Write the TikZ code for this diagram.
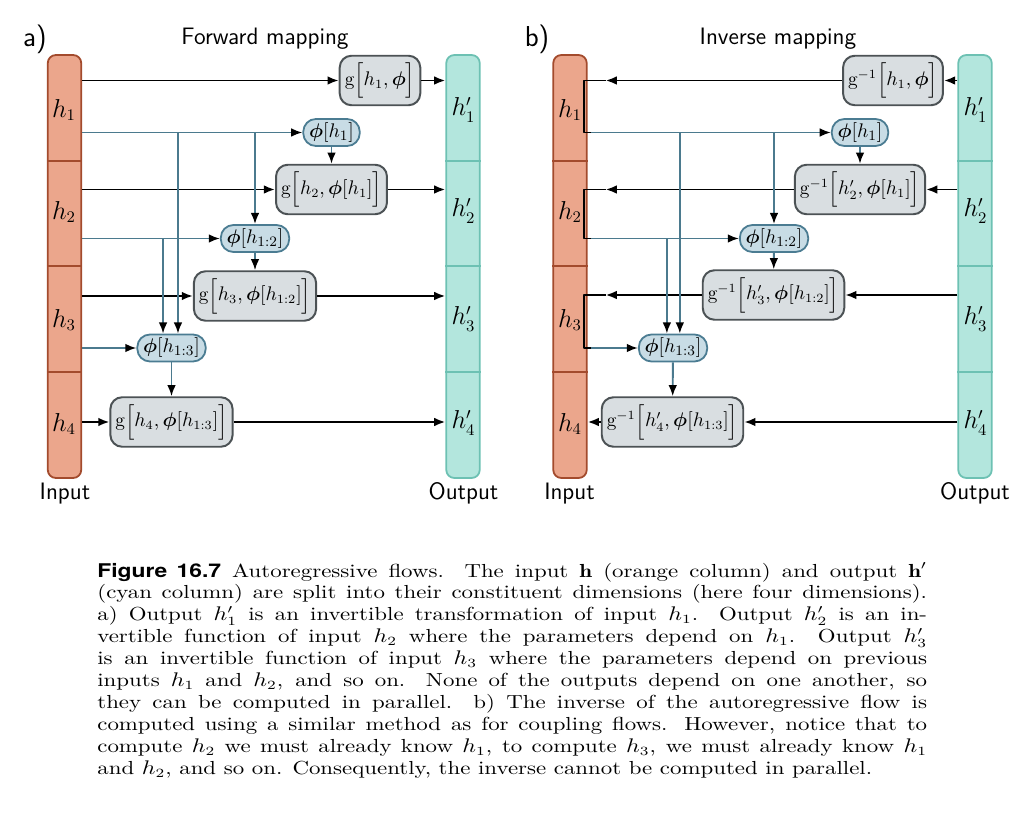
\documentclass[tikz,border=0pt]{standalone}
\usepackage{fontspec}
\usepackage{amsmath}
\usepackage{bm}
\usepackage{graphicx}
\usetikzlibrary{arrows.meta}
\newfontfamily\figfont{TeX Gyre Heros}

\definecolor{inFill}{HTML}{EBA68C}
\definecolor{inLine}{HTML}{A34B2D}
\definecolor{outFill}{HTML}{B3E6DD}
\definecolor{outLine}{HTML}{6DC1B3}
\definecolor{phiFill}{HTML}{C8DCE5}
\definecolor{phiLine}{HTML}{4B7C92}
\definecolor{gFill}{HTML}{D9DEE1}
\definecolor{gLine}{HTML}{4C5255}
\definecolor{linkBlue}{HTML}{4B7A8E}

\tikzset{
  incol/.style={draw=inLine, fill=inFill, line width=1pt, rounded corners=4.5pt,
    minimum width=18.6pt, minimum height=235pt, inner sep=0pt},
  outcol/.style={incol, draw=outLine, fill=outFill},
  cellcut/.style={line width=1pt},
  colab/.style={inner sep=0pt, font=\fontsize{13.5}{16}\selectfont},
  gbox/.style={draw=gLine, fill=gFill, line width=1.1pt, rounded corners=6.5pt,
    minimum height=27.5pt, inner xsep=2.8pt, font=\fontsize{10.7}{13}\selectfont},
  phibox/.style={draw=phiLine, fill=phiFill, line width=1pt, rounded corners=7pt,
    minimum height=15pt, inner xsep=3.2pt, inner ysep=0pt, font=\fontsize{11}{13}\selectfont},
  fwd/.style={->, line width=1.1pt},
  bk/.style={line width=1.1pt},
  prm/.style={draw=linkBlue, line width=1.05pt, -{Latex[length=6.2pt,width=4.8pt,color=black]}},
  heading/.style={anchor=base, inner sep=0pt, font=\sffamily\fontsize{13.2}{16}\selectfont},
  panelab/.style={anchor=base, inner sep=0pt, font=\sffamily\fontsize{16}{19}\selectfont},
}

\begin{document}
\begin{tikzpicture}[x=0.5556pt,y=-0.5556pt,>={Latex[length=6.2pt,width=4.8pt]},line join=bevel]
\useasboundingbox (0,0) rectangle (1026,840);
%% a) forward mapping
\node (panA) at (35,47) [panelab] {a)};
\node (headA) at (265,45) [heading] {Forward mapping};
\node (inA) at (64.5,266.5) [incol] {};
\node (outA) at (463,266.5) [outcol] {};
\foreach \y in {161,266,372} {
  \draw[cellcut,inLine] (inA.west |- 0,\y) -- (inA.east |- 0,\y);
  \draw[cellcut,outLine] (outA.west |- 0,\y) -- (outA.east |- 0,\y);
}
\node (hA1) at (64,110) [colab] {$h_1$};
\node (hA2) at (64,212) [colab] {$h_2$};
\node (hA3) at (64,320) [colab] {$h_3$};
\node (hA4) at (64,424) [colab] {$h_4$};
\node (oA1) at (463.5,110) [colab] {$h'_1$};
\node (oA2) at (463.5,211) [colab] {$h'_2$};
\node (oA3) at (463.5,319) [colab] {$h'_3$};
\node (oA4) at (463.5,423) [colab] {$h'_4$};
\node (inlabA) at (65,499) [heading] {Input};
\node (outlabA) at (463.5,499) [heading] {Output};
%
\node (gA1) at (380,80.5) [gbox] {$\mathrm{g}\Big[h_1,\bm{\phi}\Big]$};
\node (phiA1) at (331.5,132.5) [phibox] {$\bm{\phi}[h_1]$};
\node (gA2) at (331.5,189.5) [gbox] {$\mathrm{g}\Big[h_2,\bm{\phi}[h_1]\Big]$};
\node (phiA2) at (255,238.5) [phibox] {$\bm{\phi}[h_{1:2}]$};
\node (gA3) at (255,296) [gbox] {$\mathrm{g}\Big[h_3,\bm{\phi}[h_{1:2}]\Big]$};
\node (phiA3) at (171.5,348) [phibox] {$\bm{\phi}[h_{1:3}]$};
\node (gA4) at (171.5,422) [gbox] {$\mathrm{g}\Big[h_4,\bm{\phi}[h_{1:3}]\Big]$};
%
\draw[fwd] (inA.east |- gA1) -- (gA1);
\draw[fwd] (gA1) -- (outA.west |- gA1);
\draw[fwd] (inA.east |- gA2) -- (gA2);
\draw[fwd] (gA2) -- (outA.west |- gA2);
\draw[fwd] (inA.east |- gA3) -- (gA3);
\draw[fwd] (gA3) -- (outA.west |- gA3);
\draw[fwd] (inA.east |- gA4) -- (gA4);
\draw[fwd] (gA4) -- (outA.west |- gA4);
\draw[prm] (inA.east |- phiA1) -- (phiA1);
\draw[prm] (inA.east |- phiA2) -- (phiA2);
\draw[prm] (inA.east |- phiA3) -- (phiA3);
\draw[prm] (phiA2.north |- phiA1) -- (phiA2);
\draw[prm] ([xshift=3.6pt]phiA3.north |- phiA1) -- ([xshift=3.6pt]phiA3.north);
\draw[prm] ([xshift=-4.7pt]phiA3.north |- phiA2) -- ([xshift=-4.7pt]phiA3.north);
\draw[prm] (phiA1) -- (gA2);
\draw[prm] (phiA2) -- (gA3);
\draw[prm] (phiA3) -- (gA4);
%% b) inverse mapping
\node (panB) at (537,47) [panelab] {b)};
\node (headB) at (778,45) [heading] {Inverse mapping};
\node (inB) at (570,266.5) [incol] {};
\node (outB) at (975,266.5) [outcol] {};
\foreach \y in {161,266,372} {
  \draw[cellcut,inLine] (inB.west |- 0,\y) -- (inB.east |- 0,\y);
  \draw[cellcut,outLine] (outB.west |- 0,\y) -- (outB.east |- 0,\y);
}
\node (hB1) at (570,110) [colab] {$h_1$};
\node (hB2) at (570,212) [colab] {$h_2$};
\node (hB3) at (570,320) [colab] {$h_3$};
\node (hB4) at (570,424) [colab] {$h_4$};
\node (oB1) at (975.5,110) [colab] {$h'_1$};
\node (oB2) at (975.5,211) [colab] {$h'_2$};
\node (oB3) at (975.5,319) [colab] {$h'_3$};
\node (oB4) at (975.5,423) [colab] {$h'_4$};
\node (inlabB) at (569.5,499) [heading] {Input};
\node (outlabB) at (975,499) [heading] {Output};
%
\node (gB1) at (893,80.5) [gbox] {$\mathrm{g}^{-1}\Big[h_1,\bm{\phi}\Big]$};
\node (phiB1) at (860,132.5) [phibox] {$\bm{\phi}[h_1]$};
\node (gB2) at (860,189.5) [gbox] {$\mathrm{g}^{-1}\Big[h'_2,\bm{\phi}[h_1]\Big]$};
\node (phiB2) at (774,238.5) [phibox] {$\bm{\phi}[h_{1:2}]$};
\node (gB3) at (773.5,295) [gbox] {$\mathrm{g}^{-1}\Big[h'_3,\bm{\phi}[h_{1:2}]\Big]$};
\node (phiB3) at (673,348) [phibox] {$\bm{\phi}[h_{1:3}]$};
\node (gB4) at (672.5,422) [gbox] {$\mathrm{g}^{-1}\Big[h'_4,\bm{\phi}[h_{1:3}]\Big]$};
\coordinate (tB1) at ([xshift=10pt]inB.east |- gB1);
\coordinate (tB2) at ([xshift=10pt]inB.east |- gB2);
\coordinate (tB3) at ([xshift=10pt]inB.east |- gB3);
\coordinate (jB1) at ([xshift=-2.2pt]inB.east |- gB1);
\coordinate (jB2) at ([xshift=-2.2pt]inB.east |- gB2);
\coordinate (jB3) at ([xshift=-2.2pt]inB.east |- gB3);
%
\draw[fwd] (outB.west |- gB1) -- (gB1);
\draw[fwd] (outB.west |- gB2) -- (gB2);
\draw[fwd] (outB.west |- gB3) -- (gB3);
\draw[fwd] (outB.west |- gB4) -- (gB4);
\draw[prm] (inB.east |- phiB1) -- (phiB1);
\draw[prm] (inB.east |- phiB2) -- (phiB2);
\draw[prm] (inB.east |- phiB3) -- (phiB3);
\draw[fwd] (gB1) -- (tB1);
\draw[fwd] (gB2) -- (tB2);
\draw[fwd] (gB3) -- (tB3);
\draw[bk] (tB1) -- (jB1) -- (jB1 |- phiB1) -- ([xshift=2pt]inB.east |- phiB1);
\draw[bk] (tB2) -- (jB2) -- (jB2 |- phiB2) -- ([xshift=2pt]inB.east |- phiB2);
\draw[bk] (tB3) -- (jB3) -- (jB3 |- phiB3) -- ([xshift=2pt]inB.east |- phiB3);
\draw[fwd] (gB4) -- (inB.east |- gB4);
\draw[prm] (phiB2.north |- phiB1) -- (phiB2);
\draw[prm] ([xshift=3.8pt]phiB3.north |- phiB1) -- ([xshift=3.8pt]phiB3.north);
\draw[prm] ([xshift=-3.4pt]phiB3.north |- phiB2) -- ([xshift=-3.4pt]phiB3.north);
\draw[prm] (phiB1) -- (gB2);
\draw[prm] (phiB2) -- (gB3);
\draw[prm] (phiB3) -- (gB4);
%% caption
\node (caption) at (97,577) [anchor=base west, inner sep=0pt] {\scalebox{1.21}[1]{\parbox[t]{381pt}{\fontsize{10.5}{12.2}\selectfont\lineskiplimit=0pt\lineskip=0pt
{\figfont\bfseries Figure 16.7} Autoregressive flows. The input $\mathbf{h}$ (orange column) and output $\mathbf{h}'$\linebreak
(cyan column) are split into their constituent dimensions (here four dimensions).\linebreak
a) Output $h'_1$ is an invertible transformation of input $h_1$. Output $h'_2$ is an in-\linebreak
vertible function of input $h_2$ where the parameters depend on $h_1$. Output $h'_3$\linebreak
is an invertible function of input $h_3$ where the parameters depend on previous\linebreak
inputs $h_1$ and $h_2$, and so on. None of the outputs depend on one another, so\linebreak
they can be computed in parallel. b) The inverse of the autoregressive flow is\linebreak
computed using a similar method as for coupling flows. However, notice that to\linebreak
compute $h_2$ we must already know $h_1$, to compute $h_3$, we must already know $h_1$\linebreak
and $h_2$, and so on. Consequently, the inverse cannot be computed in parallel.}}};
%
\end{tikzpicture}
\end{document}
